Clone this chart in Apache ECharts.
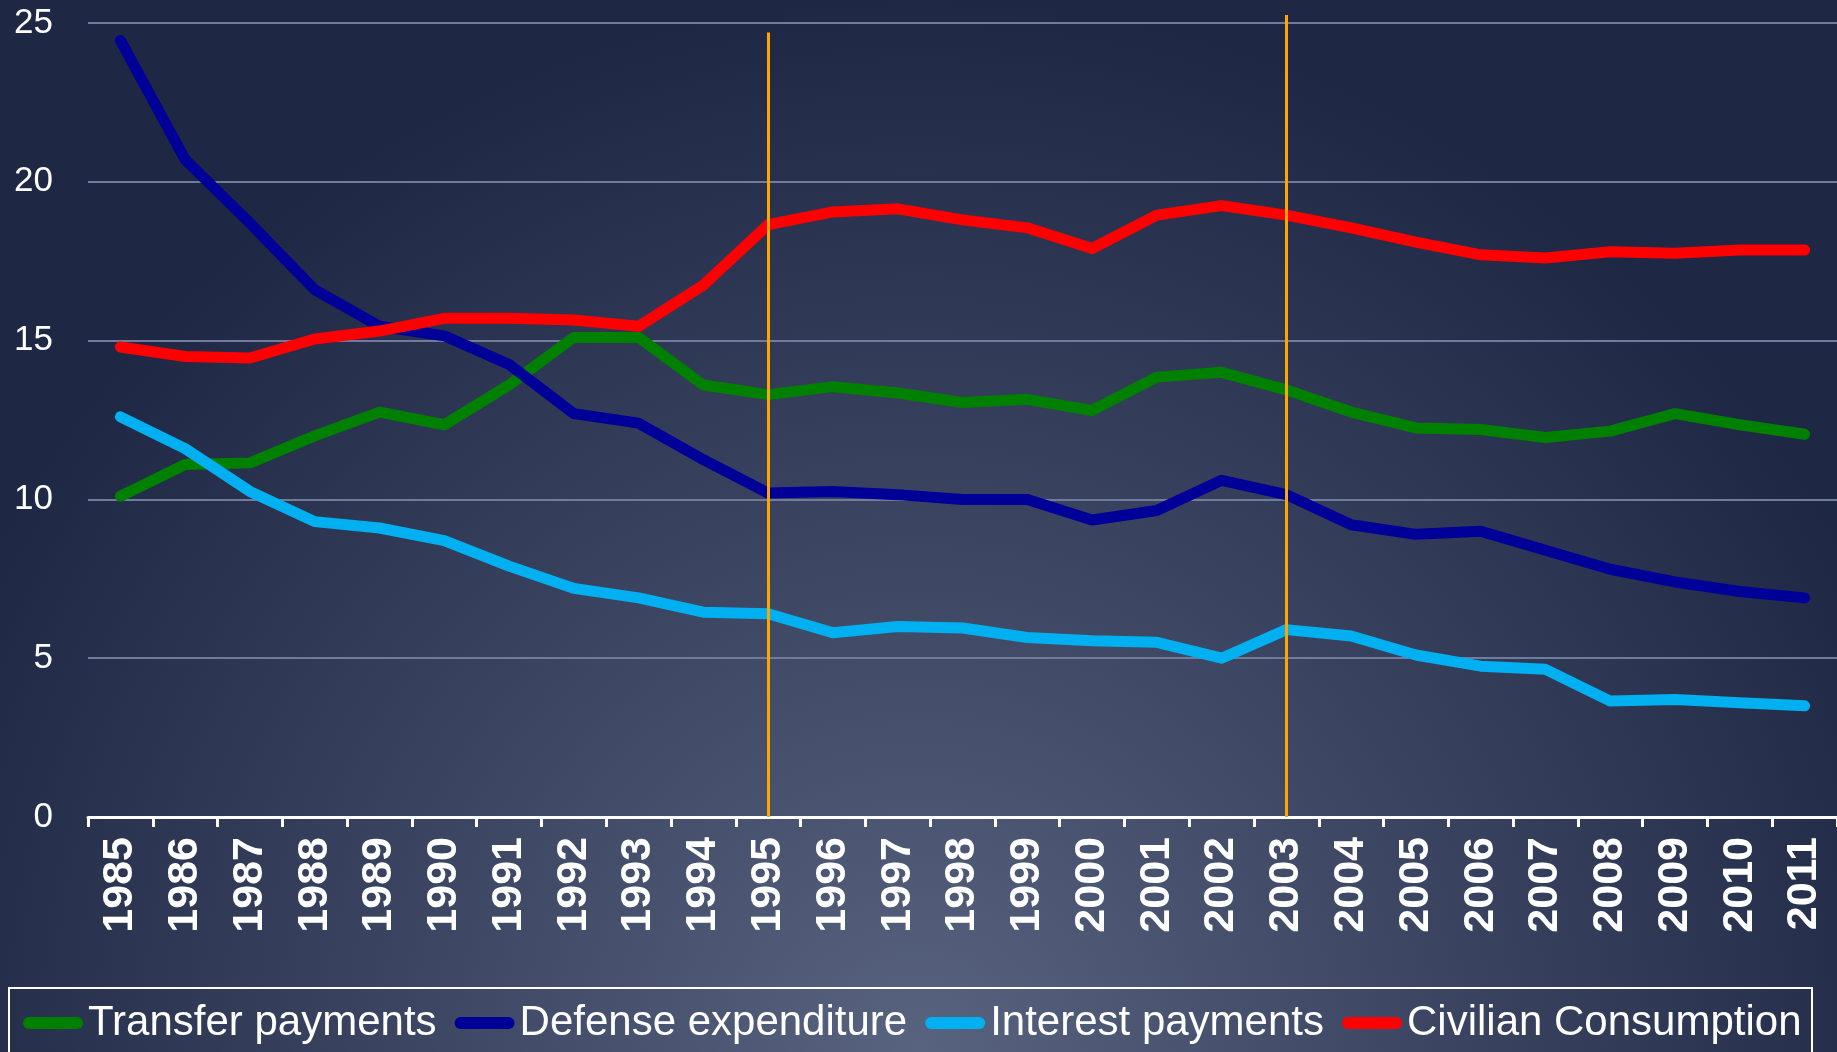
<!DOCTYPE html>
<html>
<head>
<meta charset="utf-8">
<script src="https://cdn.jsdelivr.net/npm/echarts@6/dist/echarts.min.js"></script>
<style>
  html, body { margin: 0; padding: 0; }
  #main { width: 1837px; height: 1052px; }
</style>
</head>
<body>
<div id="main"></div>
<script>
var years = ['1985', '1986', '1987', '1988', '1989', '1990', '1991', '1992', '1993', '1994',
    '1995', '1996', '1997', '1998', '1999', '2000', '2001', '2002', '2003', '2004',
    '2005', '2006', '2007', '2008', '2009', '2010', '2011'];

var transferPayments = [10.1, 11.1, 11.15, 12.0, 12.75, 12.35, 13.6, 15.1, 15.1, 13.6,
    13.3, 13.55, 13.35, 13.05, 13.15, 12.8, 13.85, 14.0, 13.45, 12.75,
    12.25, 12.2, 11.95, 12.15, 12.7, 12.35, 12.05];

var defenseExpenditure = [24.45, 20.7, 18.7, 16.6, 15.45, 15.15, 14.25, 12.7, 12.4, 11.25,
    10.2, 10.25, 10.15, 10.0, 10.0, 9.35, 9.65, 10.6, 10.15, 9.2,
    8.9, 9.0, 8.4, 7.8, 7.4, 7.1, 6.9];

var interestPayments = [12.6, 11.6, 10.25, 9.3, 9.1, 8.7, 7.9, 7.2, 6.9, 6.45,
    6.4, 5.8, 6.0, 5.95, 5.65, 5.55, 5.5, 5.0, 5.9, 5.7,
    5.1, 4.75, 4.65, 3.65, 3.7, 3.6, 3.5];

var civilianConsumption = [14.8, 14.5, 14.45, 15.05, 15.3, 15.7, 15.7, 15.65, 15.45, 16.75,
    18.65, 19.05, 19.15, 18.8, 18.55, 17.9, 18.95, 19.25, 18.95, 18.55,
    18.1, 17.7, 17.6, 17.8, 17.75, 17.85, 17.85];

var yTicks = [0, 5, 10, 15, 20, 25];

// 橙色竖线：年份和顶端高度（第二根略高出 25）
var markYears = ['1995', '2003'];
var markTops = [24.7, 25.25];

var font = '"Liberation Sans", Arial, sans-serif';
var capsule = 'path://M6,0 L54,0 A6,6 0 0 1 54,12 L6,12 A6,6 0 0 1 6,0 Z';

var chart = echarts.init(document.getElementById('main'));

function lineSeries(name, data, color) {
    return {
        name: name,
        type: 'line',
        data: data,
        symbol: 'none',
        lineStyle: { color: color, width: 11, cap: 'round', join: 'round' },
        itemStyle: { color: color }
    };
}

var series = [
    lineSeries('Transfer payments', transferPayments, '#008000'),
    lineSeries('Defense expenditure', defenseExpenditure, '#000099'),
    lineSeries('Interest payments', interestPayments, '#00B0F0'),
    lineSeries('Civilian Consumption', civilianConsumption, '#FF0000')
];

// 竖线放在第二个隐藏坐标系里，刻度与主图相同，只是上限稍高
var maxTop = Math.max.apply(null, markTops);
var plotHeight = 1052 - 23 - 235;
var markGridTop = 23 - Math.round((maxTop - yTicks[yTicks.length - 1]) * plotHeight / yTicks[yTicks.length - 1]);

series.push({
    name: 'marks',
    type: 'line',
    xAxisIndex: 1,
    yAxisIndex: 1,
    data: [],
    symbol: 'none',
    silent: true,
    markLine: {
        silent: true,
        symbol: 'none',
        label: { show: false },
        lineStyle: { color: '#FFA500', width: 3, type: 'solid' },
        data: markYears.map(function (y, i) {
            return [{ coord: [y, 0] }, { coord: [y, markTops[i]] }];
        })
    }
});

var option = {
    animation: false,
    backgroundColor: {
        type: 'radial', x: 0.5, y: 1, r: 1,
        colorStops: [
            { offset: 0, color: '#58637F' },
            { offset: 1, color: '#1E2744' }
        ]
    },
    textStyle: { fontFamily: font },
    grid: [
        { left: 88, right: -5, top: 23, bottom: 235, containLabel: false },
        { left: 88, right: -5, top: markGridTop, bottom: 235, containLabel: false }
    ],
    legend: {
        data: series.slice(0, 4).map(function (s) { return s.name; }),
        left: 23,
        top: 1002,
        padding: 0,
        icon: capsule,
        itemWidth: 60,
        itemHeight: 13,
        itemGap: 18,
        textStyle: { color: '#FFFFFF', fontSize: 42, fontFamily: font }
    },
    graphic: [{
        type: 'rect',
        silent: true,
        shape: { x: 9, y: 988, width: 1803, height: 100 },
        style: { fill: 'none', stroke: '#FFFFFF', lineWidth: 2 }
    }],
    xAxis: [{
        type: 'category',
        data: years,
        boundaryGap: true,
        axisLine: { lineStyle: { color: '#FFFFFF', width: 3 } },
        axisTick: { show: true, length: 10, lineStyle: { color: '#FFFFFF', width: 3 } },
        axisLabel: {
            rotate: 90,
            interval: 0,
            margin: 20,
            color: '#FFFFFF',
            fontSize: 43,
            fontWeight: 'bold',
            fontFamily: font
        }
    }, {
        type: 'category',
        gridIndex: 1,
        data: years,
        boundaryGap: true,
        show: false
    }],
    yAxis: [{
        type: 'value',
        min: yTicks[0],
        max: yTicks[yTicks.length - 1],
        interval: 5,
        axisLine: { show: false },
        axisTick: { show: false },
        axisLabel: { color: '#FFFFFF', fontSize: 35, margin: 35, fontFamily: font },
        splitLine: { lineStyle: { color: '#6F7C9B', width: 2 } }
    }, {
        type: 'value',
        gridIndex: 1,
        min: 0,
        max: maxTop,
        show: false,
        splitLine: { show: false }
    }],
    series: series
};

chart.setOption(option);
</script>
</body>
</html>
